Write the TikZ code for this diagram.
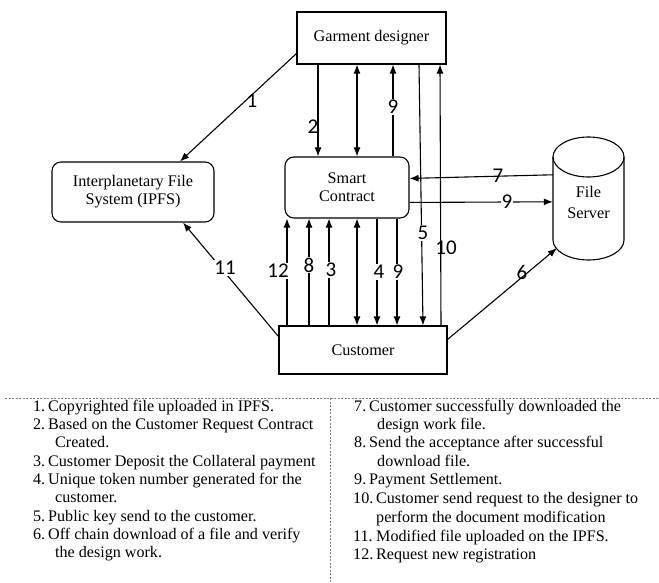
\documentclass[tikz,border=0pt]{standalone}
\usepackage{fontspec}
\setmainfont{Liberation Serif}
\newfontfamily\numfont{Carlito}
\usetikzlibrary{arrows.meta}

\begin{document}
\begin{tikzpicture}[x=1pt,y=-1pt,
  box/.style={draw, line width=1.1pt, inner sep=0pt, align=center,
    font=\fontsize{16.2}{18}\selectfont},
  rbox/.style={box, rounded corners=9pt},
  flow/.style={line width=1.1pt, -{Latex[length=9pt,width=7pt]}},
  both/.style={line width=1.1pt, {Latex[length=9pt,width=7pt]}-{Latex[length=9pt,width=7pt]}},
  num/.style={font=\numfont\fontsize{21}{21}\selectfont, inner sep=1pt},
  gap/.style={num, fill=white},
  item/.style={inner sep=0pt, anchor=west, text height=11pt, text depth=3.5pt,
    font=\fontsize{16.1}{18}\selectfont},
  sep/.style={gray, line width=0.5pt, dash pattern=on 2pt off 1.5pt}]
\useasboundingbox (0,0) rectangle (659,583);

% main actors
\node[box, minimum width=149pt, minimum height=52pt] (gd) at (371.5,38) {Garment designer};
\node[rbox, minimum width=124pt, minimum height=61pt] (sc) at (347,187.5) {Smart\\Contract};
\node[box, minimum width=168pt, minimum height=48pt] (cu) at (363,350) {Customer};
\node[rbox, minimum width=162pt, minimum height=60pt] (ipfs) at (133,192)
  {Interplanetary File\\System (IPFS)};

% file server cylinder
\node[inner sep=0pt, minimum width=71pt, minimum height=123pt, align=center,
  font=\fontsize{16.2}{21}\selectfont] (fs) at (588.5,198.5) {\\[-2pt]File\\Server};
\draw[line width=1.1pt] (553,157) -- (553,240) arc[start angle=180, end angle=360,
  x radius=35.5, y radius=-20] -- (624,157);
\draw[line width=1.1pt] (588.5,157) ellipse[x radius=35.5, y radius=20];

% designer <-> smart contract
\draw[flow] (318,0 |- gd.south) -- (318,0 |- sc.north);
\draw[both] (357,0 |- gd.south) -- (357,0 |- sc.north);
\draw[flow] (393,0 |- sc.north) -- (393,0 |- gd.south);

% designer <-> customer
\draw[flow] (419,0 |- gd.south) -- (423,0 |- cu.north);
\draw[flow] (441,0 |- cu.north) -- (440,0 |- gd.south);

% customer <-> smart contract
\draw[flow] (287,0 |- cu.north) -- (287,0 |- sc.south);
\draw[flow] (309,0 |- cu.north) -- (309,0 |- sc.south);
\draw[flow] (329,0 |- cu.north) -- (329,0 |- sc.south);
\draw[both] (357,0 |- sc.south) -- (357,0 |- cu.north);
\draw[flow] (377,0 |- sc.south) -- (377,0 |- cu.north);
\draw[flow] (397,0 |- sc.south) -- (397,0 |- cu.north);

% IPFS links
\draw[flow] ([yshift=11pt]gd.south west) -- ([xshift=47pt]ipfs.north);
\draw[flow] ([yshift=-11pt]cu.north west) -- ([xshift=50pt]ipfs.south);

% file server links
\draw[flow] ([yshift=-38pt]fs.north west) -- ([yshift=-22pt]sc.north east);
\draw[flow] ([yshift=-46pt]sc.north east) -- ([yshift=-65pt]fs.north west);
\draw[flow] ([yshift=-14pt]cu.north east) -- ([xshift=4pt,yshift=12pt]fs.south west);

% step numbers
\node[num] (n1) at (252,101) {1};
\node[num] (n2) at (313,127) {2};
\node[gap] (n9a) at (393,107) {9};
\node[gap] (n12) at (278,271) {12};
\node[gap] (n8) at (309,265) {8};
\node[gap] (n3) at (331,270) {3};
\node[gap] (n4) at (379,272) {4};
\node[gap] (n9b) at (398,272) {9};
\node[gap] (n5) at (423,233) {5};
\node[num] (n10) at (446,248) {10};
\node[gap] (n11) at (225,268) {11};
\node[num] (n7) at (498,176) {7};
\node[gap] (n9c) at (507,202) {9};
\node[num] (n6) at (522,272) {6};

% legend frame
\draw[sep] (5,398) coordinate (la) -- (659,398) coordinate (lb);
\draw[sep] (330,398) coordinate (lc) -- (330,583) coordinate (ld);

% legend, left column
\node[item] (a1) at (33,408) {1.}; \node[item] (t1) at (48,408) {Copyrighted file uploaded in IPFS.};
\node[item] (a2) at (33,426) {2.}; \node[item] (t2) at (48,426) {Based on the Customer Request Contract};
\node[item] (t2b) at (55,444) {Created.};
\node[item] (a3) at (33,463) {3.}; \node[item] (t3) at (48,463) {Customer Deposit the Collateral payment};
\node[item] (a4) at (33,481) {4.}; \node[item] (t4) at (48,481) {Unique token number generated for the};
\node[item] (t4b) at (55,499) {customer.};
\node[item] (a5) at (33,518) {5.}; \node[item] (t5) at (48,518) {Public key send to the customer.};
\node[item] (a6) at (33,536) {6.}; \node[item] (t6) at (48,536) {Off chain download of a file and verify};
\node[item] (t6b) at (55,554) {the design work.};

% legend, right column
\node[item] (a7) at (354,408) {7.}; \node[item] (t7) at (369,408) {Customer successfully downloaded the};
\node[item] (t7b) at (377,426) {design work file.};
\node[item] (a8) at (354,444) {8.}; \node[item] (t8) at (369,444) {Send the acceptance after successful};
\node[item] (t8b) at (377,463) {download file.};
\node[item] (a9) at (354,481) {9.}; \node[item] (t9) at (369,481) {Payment Settlement.};
\node[item] (a10) at (353,500) {10.}; \node[item] (t10) at (376,500) {Customer send request to the designer to};
\node[item] (t10b) at (376,519) {perform the document modification};
\node[item] (a11) at (353,538) {11.}; \node[item] (t11) at (376,538) {Modified file uploaded on the IPFS.};
\node[item] (a12) at (353,556) {12.}; \node[item] (t12) at (376,556) {Request new registration};
\end{tikzpicture}
\end{document}
